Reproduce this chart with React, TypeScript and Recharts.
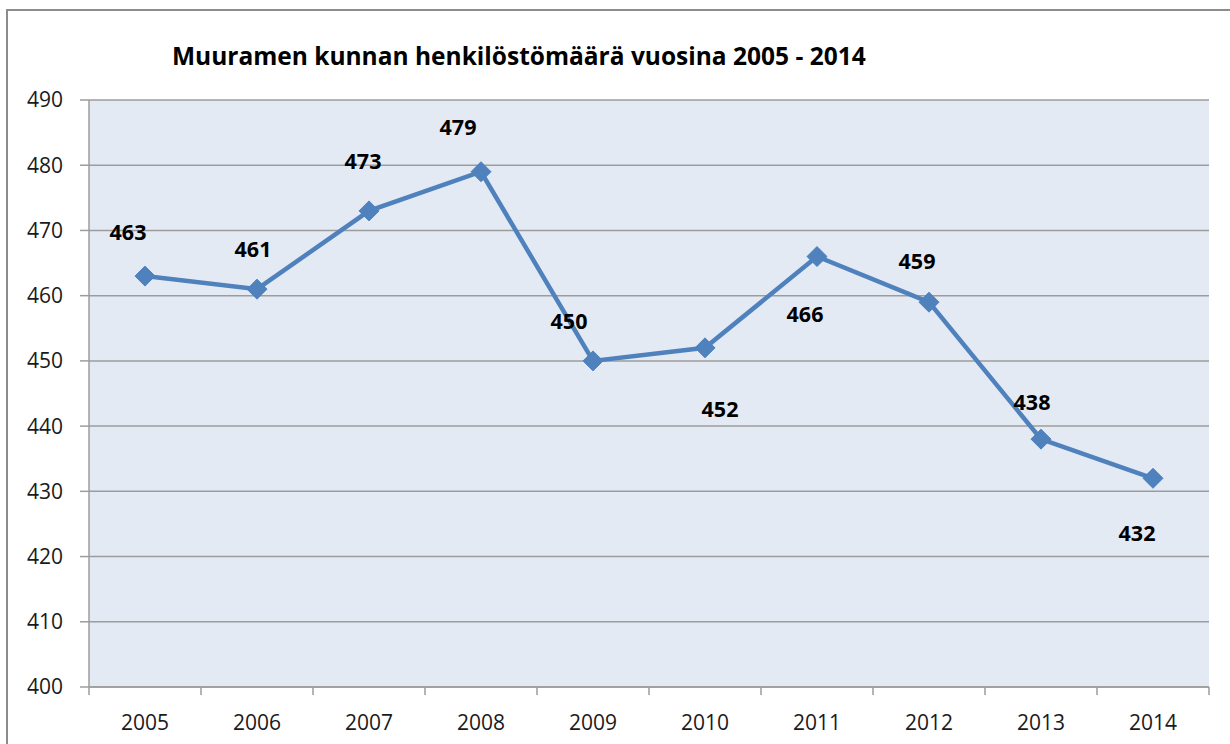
import React from "react";
import { LineChart, Line, XAxis, YAxis, CartesianGrid } from "recharts";

// Muuramen kunnan henkilöstömäärä 2005-2014
const YEARS = ["2005", "2006", "2007", "2008", "2009", "2010", "2011", "2012", "2013", "2014"];
const STAFF = [463, 461, 473, 479, 450, 452, 466, 459, 438, 432];
const Y_TICKS = [400, 410, 420, 430, 440, 450, 460, 470, 480, 490];

// label placement relative to the point (Excel had them nudged by hand)
const LABEL_NUDGE: [number, number][] = [
  [-17, -45], [-4, -41], [-6, -50], [-23, -45], [-24, -40],
  [15, 61], [-12, 57], [-12, -42], [-9, -38], [-16, 54],
];

const data = YEARS.map((year, i) => ({ year, value: STAFF[i] }));

const BLUE = "#4F81BD";
const GRID = "#9C9C9C";
const FONT = "'Open Sans', 'Liberation Sans', sans-serif";
const X_TICK_SIZE = 8;
const X_TICK_MARGIN = 20;

const Diamond = (props: any) => {
  const { cx, cy } = props;
  if (cx == null || cy == null) return null;
  const r = 10;
  return (
    <polygon
      points={`${cx},${cy - r} ${cx + r},${cy} ${cx},${cy + r} ${cx - r},${cy}`}
      fill={BLUE}
      stroke={BLUE}
      strokeWidth={1}
    />
  );
};

const ValueLabel = (props: any) => {
  const { x, y, value, index } = props;
  const [dx, dy] = LABEL_NUDGE[index] || [0, -30];
  return (
    <text
      x={x + dx}
      y={y + dy}
      textAnchor="middle"
      dominantBaseline="central"
      fontFamily={FONT}
      fontWeight={700}
      fontSize={21.5}
      fill="#000"
    >
      {value}
    </text>
  );
};

// year label + Excel-style tick marks between the categories
const YearTick = (props: any) => {
  const { x, y, payload, visibleTicksCount } = props;
  const half = payload.offset || 0;
  const top = y - X_TICK_SIZE - X_TICK_MARGIN;
  const isLast = payload.index === visibleTicksCount - 1;
  return (
    <g>
      <line x1={x - half} x2={x - half} y1={top} y2={top + X_TICK_SIZE} stroke={GRID} strokeWidth={1.5} />
      {isLast && (
        <line x1={x + half} x2={x + half} y1={top} y2={top + X_TICK_SIZE} stroke={GRID} strokeWidth={1.5} />
      )}
      <text x={x} y={y} dy="0.71em" textAnchor="middle" fontFamily={FONT} fontSize={21} fill="#1a1a1a">
        {payload.value}
      </text>
    </g>
  );
};

export default function App() {
  return (
    <div style={{ position: "absolute", left: 0, top: 0, width: 1230, height: 744, overflow: "hidden", background: "#fff" }}>
      <div
        style={{
          position: "absolute",
          left: 6,
          top: 9,
          width: 1400,
          height: 900,
          border: "2px solid #8C8C8C",
        }}
      />
      <div
        style={{
          position: "absolute",
          left: 172,
          top: 39,
          fontFamily: FONT,
          fontWeight: 700,
          fontSize: 24.5,
          color: "#000",
          whiteSpace: "nowrap",
        }}
      >
        Muuramen kunnan henkilöstömäärä vuosina 2005 - 2014
      </div>
      <div style={{ position: "absolute", left: 0, top: 0 }}>
        <LineChart width={1230} height={744} data={data} margin={{ top: 100, right: 21, bottom: 0, left: 0 }}>
          <CartesianGrid vertical={false} stroke={GRID} strokeWidth={1.5} fill="#E4EAF4" fillOpacity={1} />
          <XAxis
            dataKey="year"
            scale="band"
            height={57}
            tickLine={false}
            tickSize={X_TICK_SIZE}
            tickMargin={X_TICK_MARGIN}
            axisLine={{ stroke: GRID, strokeWidth: 1.5 }}
            tick={<YearTick />}
            interval={0}
          />
          <YAxis
            type="number"
            domain={[400, 490]}
            ticks={Y_TICKS}
            width={89}
            tickSize={9}
            tickMargin={17}
            tickLine={{ stroke: GRID, strokeWidth: 1.5 }}
            axisLine={{ stroke: GRID, strokeWidth: 1.5 }}
            tick={{ fill: "#1a1a1a", fontSize: 21, fontFamily: FONT }}
            interval={0}
          />
          <Line
            type="linear"
            dataKey="value"
            stroke={BLUE}
            strokeWidth={4.5}
            dot={<Diamond />}
            activeDot={false}
            label={<ValueLabel />}
            isAnimationActive={false}
          />
        </LineChart>
      </div>
    </div>
  );
}
